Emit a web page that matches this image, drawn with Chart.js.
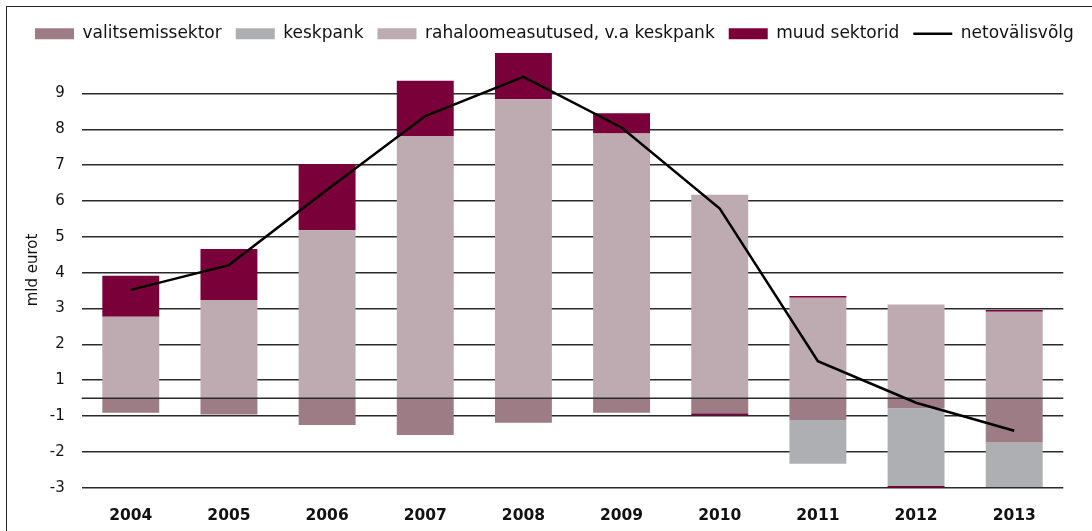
<!DOCTYPE html>
<html>
<head>
<meta charset="utf-8">
<script src="https://cdn.jsdelivr.net/npm/chart.js@4/dist/chart.umd.min.js"></script>
<style>
  body { margin: 0; background: #fff; }
  #wrap { position: relative; width: 1092px; height: 531px; }
  #frame { position: absolute; left: 6px; top: 6px; right: 0; bottom: 0;
           border-top: 1.5px solid #222; border-left: 1.5px solid #222; }
  #myChart { position: absolute; left: 0; top: 0; }
</style>
</head>
<body>
<div id="wrap">
  <div id="frame"></div>
  <canvas id="myChart" width="1092" height="531"></canvas>
</div>
<script>
// aastad
var years = ['2004', '2005', '2006', '2007', '2008', '2009', '2010', '2011', '2012', '2013'];

// komponendid, mld eurot
var valitsemissektor = [-0.41, -0.46, -0.75, -1.03, -0.69, -0.41, -0.42, -0.61, -0.28, -1.24];
var keskpank = [0, 0, 0, 0, 0, 0, 0, -1.22, -2.17, -1.24];
var rahaloome = [2.27, 2.74, 4.68, 7.31, 8.34, 7.38, 5.67, 2.80, 2.61, 2.41];
var muudSektorid = [1.14, 1.42, 1.85, 1.54, 1.29, 0.57, -0.06, 0.05, -0.11, 0.05];
var netovalisvolg = [3.02, 3.71, 5.81, 7.87, 8.96, 7.55, 5.29, 1.03, -0.13, -0.91];

// y-telje sildid (null puudub, sildid on poole ühiku võrra nihkes)
var yTickLabels = [-3, -2, -1, 1, 2, 3, 4, 5, 6, 7, 8, 9];

Chart.defaults.font.family = "'DejaVu Sans', sans-serif";
Chart.defaults.color = '#111';

var gridColor = '#2a2a2a';

// nulljoon tulpade peale, aga joone alla
var zeroLine = {
  id: 'zeroLine',
  beforeDatasetDraw: function(chart, args) {
    if (args.index !== 4) return;
    var y = Math.round(chart.scales.y.getPixelForValue(0)) + 0.25;
    var area = chart.chartArea;
    var c = chart.ctx;
    c.save();
    c.strokeStyle = gridColor;
    c.lineWidth = 1.5;
    c.beginPath();
    c.moveTo(area.left, y);
    c.lineTo(area.right, y);
    c.stroke();
    c.restore();
  }
};

var ctx = document.getElementById('myChart');

var data = {
  labels: years,
  datasets: [{
    label: 'valitsemissektor',
    data: valitsemissektor,
    backgroundColor: '#9e7c86',
    pointStyle: 'rect'
  }, {
    label: 'keskpank',
    data: keskpank,
    backgroundColor: '#aeafb3',
    pointStyle: 'rect'
  }, {
    label: 'rahaloomeasutused, v.a keskpank',
    data: rahaloome,
    backgroundColor: '#bdabb1',
    pointStyle: 'rect'
  }, {
    label: 'muud sektorid',
    data: muudSektorid,
    backgroundColor: '#7a0039',
    pointStyle: 'rect'
  }, {
    type: 'line',
    label: 'netovälisvõlg',
    data: netovalisvolg,
    stack: 'net',
    order: -1,
    borderColor: '#000',
    backgroundColor: '#000',
    borderWidth: 2.5,
    pointRadius: 0,
    pointStyle: 'line',
    tension: 0
  }]
};

var options = {
  responsive: false,
  animation: false,
  layout: {
    padding: { top: 11.2, left: 21, right: 0, bottom: 0 }
  },
  datasets: {
    bar: { categoryPercentage: 1, barPercentage: 0.58 }
  },
  plugins: {
    tooltip: { enabled: false },
    legend: {
      position: 'top',
      align: 'start',
      labels: {
        usePointStyle: true,
        pointStyleWidth: 39,
        boxHeight: 11,
        padding: 14,
        font: { size: 17 },
        color: '#111',
        sort: function(a, b) { return a.datasetIndex - b.datasetIndex; }
      }
    }
  },
  scales: {
    x: {
      stacked: true,
      grid: { display: false },
      border: { display: false },
      ticks: { font: { size: 15.5, weight: 'bold' }, padding: 11, color: '#111' },
      afterFit: function(s) { s.height = 43.3; }
    },
    y: {
      stacked: true,
      min: -2.5,
      max: 9.65,
      border: { display: false },
      grid: { color: gridColor, lineWidth: 1.5, drawTicks: false },
      title: {
        display: true,
        text: 'mld eurot',
        font: { size: 15 },
        color: '#111',
        padding: { top: 3, bottom: 0 }
      },
      ticks: {
        font: { size: 15 },
        padding: 17,
        color: '#111',
        callback: function(v, i) { return yTickLabels[i]; }
      },
      afterBuildTicks: function(s) {
        s.ticks = yTickLabels.map(function(k) {
          return { value: k > 0 ? k - 0.5 : k + 0.5 };
        });
      },
      afterFit: function(s) { s.width = 60.7; }
    },
    // tühi parem telg jätab joonise paremale vaba ruumi
    yRight: {
      position: 'right',
      grid: { display: false },
      border: { display: false },
      ticks: { display: false },
      afterFit: function(s) { s.width = 28.7; }
    }
  }
};

var myChart = new Chart(ctx, {
  type: 'bar',
  data: data,
  options: options,
  plugins: [zeroLine]
});
</script>
</body>
</html>
